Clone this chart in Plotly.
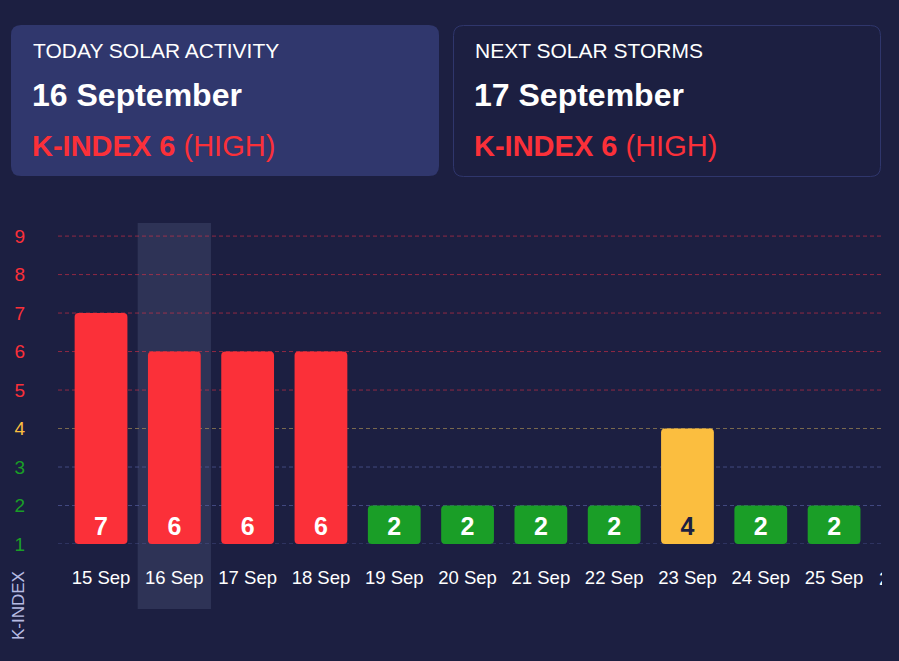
import plotly.graph_objects as go

# ---- data ----
dates = ["15 Sep", "16 Sep", "17 Sep", "18 Sep", "19 Sep", "20 Sep",
         "21 Sep", "22 Sep", "23 Sep", "24 Sep", "25 Sep"]
kindex = [7, 6, 6, 6, 2, 2, 2, 2, 4, 2, 2]
next_label = "26 Sep"
levels = [1, 2, 3, 4, 5, 6, 7, 8, 9]
today = "16 Sep"
today_card = ["TODAY SOLAR ACTIVITY", "16 September", "K-INDEX 6", "(HIGH)"]
next_card = ["NEXT SOLAR STORMS", "17 September", "K-INDEX 6", "(HIGH)"]

# ---- style ----
BG = "#1c1f41"
CARD = "#30376d"
RED = "#fb3039"
YEL = "#fbbe3f"
GRN = "#1a9e27"
FONT = "Liberation Sans, Arial, sans-serif"

def level_color(v):
    return RED if v >= 5 else (YEL if v == 4 else GRN)

def grid_color(v):
    if v >= 5:
        return "rgba(240,50,70,0.55)"
    if v == 4:
        return "rgba(200,170,90,0.55)"
    return "rgba(90,100,170,0.6)"

W, H = 899, 661
L, R, T, B = 58, 18, 223, 117
PW, PH = W - L - R, H - T - B
XR = [-0.587, 10.64]

def px(x):
    return (x - L) / PW

def py(y):
    return (H - B - y) / PH

def rrect(x0, y0, x1, y1, r):
    return (f"M {px(x0 + r)},{py(y0)} L {px(x1 - r)},{py(y0)} "
            f"Q {px(x1)},{py(y0)} {px(x1)},{py(y0 + r)} "
            f"L {px(x1)},{py(y1 - r)} Q {px(x1)},{py(y1)} {px(x1 - r)},{py(y1)} "
            f"L {px(x0 + r)},{py(y1)} Q {px(x0)},{py(y1)} {px(x0)},{py(y1 - r)} "
            f"L {px(x0)},{py(y0 + r)} Q {px(x0)},{py(y0)} {px(x0 + r)},{py(y0)} Z")

fig = go.Figure()

fig.add_trace(go.Bar(
    x=dates,
    y=[v - levels[0] for v in kindex],
    base=levels[0],
    text=[str(v) for v in kindex],
    textposition="inside",
    insidetextanchor="start",
    textangle=0,
    textfont=dict(family=FONT, size=25, color=[BG if v == 4 else "white" for v in kindex],
                  weight="bold"),
    marker=dict(color=[level_color(v) for v in kindex], cornerradius=4, line=dict(width=0)),
    hoverinfo="skip",
    cliponaxis=False,
))

shapes = []
ti = dates.index(today)
shapes.append(dict(type="rect", xref="x", yref="paper", x0=ti - 0.5, x1=ti + 0.5,
                   y0=py(609), y1=1, fillcolor="#2e3356", line=dict(width=0), layer="below"))
for v in levels:
    shapes.append(dict(type="line", xref="paper", yref="y", x0=0, x1=1, y0=v, y1=v,
                       line=dict(color=grid_color(v), width=1, dash="4px,3px"), layer="below"))
shapes.append(dict(type="path", xref="paper", yref="paper", path=rrect(11, 25, 439, 176, 10),
                   fillcolor=CARD, line=dict(width=0)))
shapes.append(dict(type="path", xref="paper", yref="paper", path=rrect(453.5, 25.5, 880.5, 176.5, 10),
                   fillcolor="rgba(0,0,0,0)", line=dict(color="#2f366c", width=1)))

ann = []
for cx, card in [(33, today_card), (475, next_card)]:
    ann.append(dict(xref="paper", yref="paper", x=px(cx - 2), y=py(51), xanchor="left", yanchor="middle",
                    text=card[0], showarrow=False, font=dict(family=FONT, size=21, color="white")))
    ann.append(dict(xref="paper", yref="paper", x=px(cx - 3), y=py(95), xanchor="left", yanchor="middle",
                    text=f"<b>{card[1]}</b>", showarrow=False, font=dict(family=FONT, size=32, color="white")))
    ann.append(dict(xref="paper", yref="paper", x=px(cx - 3), y=py(146), xanchor="left", yanchor="middle",
                    text=f"<b>{card[2]}</b> {card[3]}", showarrow=False,
                    font=dict(family=FONT, size=29, color=RED)))
ann.append(dict(xref="paper", yref="paper", x=px(18), y=py(606), xanchor="center", yanchor="middle",
                text="K-INDEX", textangle=-90, showarrow=False,
                font=dict(family=FONT, size=17, color="#b7bbe3")))
# next category label: only its first sliver is visible at the chart's right edge
ann.append(dict(xref="paper", yref="paper", x=1.0 - 2.6 / PW, y=py(578),
                xanchor="left", yanchor="middle", align="left", width=3, borderpad=0,
                text=next_label, showarrow=False, font=dict(family=FONT, size=18.5, color="white")))

fig.update_layout(
    width=W, height=H,
    margin=dict(l=L, r=R, t=T, b=B),
    paper_bgcolor=BG, plot_bgcolor=BG,
    showlegend=False,
    bargap=0.28,
    shapes=shapes,
    annotations=ann,
    font=dict(family=FONT, color="white"),
    xaxis=dict(range=XR, showgrid=False, zeroline=False, showline=False,
               tickfont=dict(family=FONT, size=18.5, color="white"), ticks="",
               ticklabelstandoff=20, fixedrange=True),
    yaxis=dict(range=[1, 9.34], showgrid=False, zeroline=False, showline=False,
               tickmode="array", tickvals=levels,
               ticktext=[f'<span style="color:{level_color(v)}">{v}</span>' for v in levels],
               tickfont=dict(family=FONT, size=19), ticks="", ticklabelstandoff=32,
               fixedrange=True),
)

fig.write_html("out.html", config={"displayModeBar": False},
               post_script="document.body.style.margin='0';document.body.style.background='%s';" % BG)
